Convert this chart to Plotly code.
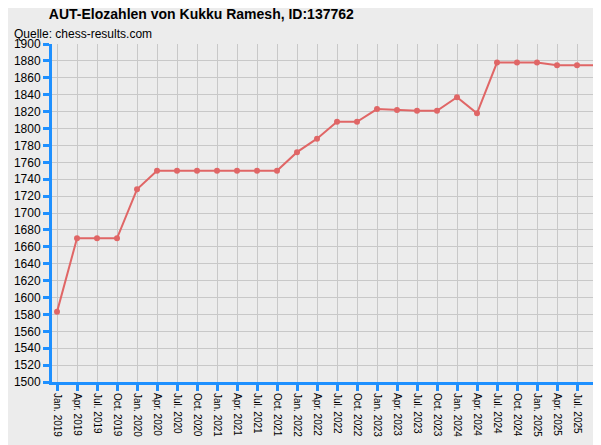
import plotly.graph_objects as go

dates = ["Jan. 2019", "Apr. 2019", "Jul. 2019", "Oct. 2019", "Jan. 2020", "Apr. 2020", "Jul. 2020",
         "Oct. 2020", "Jan. 2021", "Apr. 2021", "Jul. 2021", "Oct. 2021", "Jan. 2022", "Apr. 2022",
         "Jul. 2022", "Oct. 2022", "Jan. 2023", "Apr. 2023", "Jul. 2023", "Oct. 2023", "Jan. 2024",
         "Apr. 2024", "Jul. 2024", "Oct. 2024", "Jan. 2025", "Apr. 2025", "Jul. 2025", "Oct. 2025"]
elo = [1583, 1670, 1670, 1670, 1728, 1750, 1750, 1750, 1750, 1750, 1750, 1750, 1772, 1788,
       1808, 1808, 1823, 1822, 1821, 1821, 1837, 1818, 1878, 1878, 1878, 1875, 1875, 1875]

xs = list(range(len(dates)))

fig = go.Figure()
fig.add_trace(go.Scatter(x=xs, y=elo, mode='lines+markers',
                         line=dict(color='#e06666', width=2),
                         marker=dict(color='#e06666', size=6)))

fig.update_layout(
    width=601, height=445,
    paper_bgcolor='#ececec', plot_bgcolor='#ececec',
    margin=dict(l=44, r=9, t=36, b=71, autoexpand=False),
    showlegend=False,
    font=dict(family='Liberation Sans, Arial', size=12, color='black'),
    title=dict(text='<b>AUT-Elozahlen von Kukku Ramesh, ID:137762</b>', x=0.068, xanchor='left',
               y=0.997, yanchor='top', font=dict(size=14)),
    annotations=[dict(text='Quelle: chess-results.com', xref='paper', yref='paper',
                      x=-0.073, y=1.03, xanchor='left', yanchor='middle', showarrow=False,
                      font=dict(size=12))],
)
fig.update_xaxes(range=[-0.25, 27.15], tickvals=xs, ticktext=dates, tickangle=90,
                 showgrid=True, gridcolor='#c8c8c8', gridwidth=1, automargin=False,
                 showline=True, linecolor='#1e90ff', linewidth=3,
                 ticks='outside', tickcolor='#1e90ff', tickwidth=3, ticklen=6,
                 tickfont=dict(size=10), zeroline=False)
fig.update_yaxes(range=[1500, 1900], dtick=20, automargin=False,
                 showgrid=True, gridcolor='#c8c8c8', gridwidth=1,
                 showline=True, linecolor='#1e90ff', linewidth=3,
                 ticks='outside', tickcolor='#1e90ff', tickwidth=3, ticklen=6,
                 tickfont=dict(size=12), zeroline=False)

fig.write_html("out.html")
